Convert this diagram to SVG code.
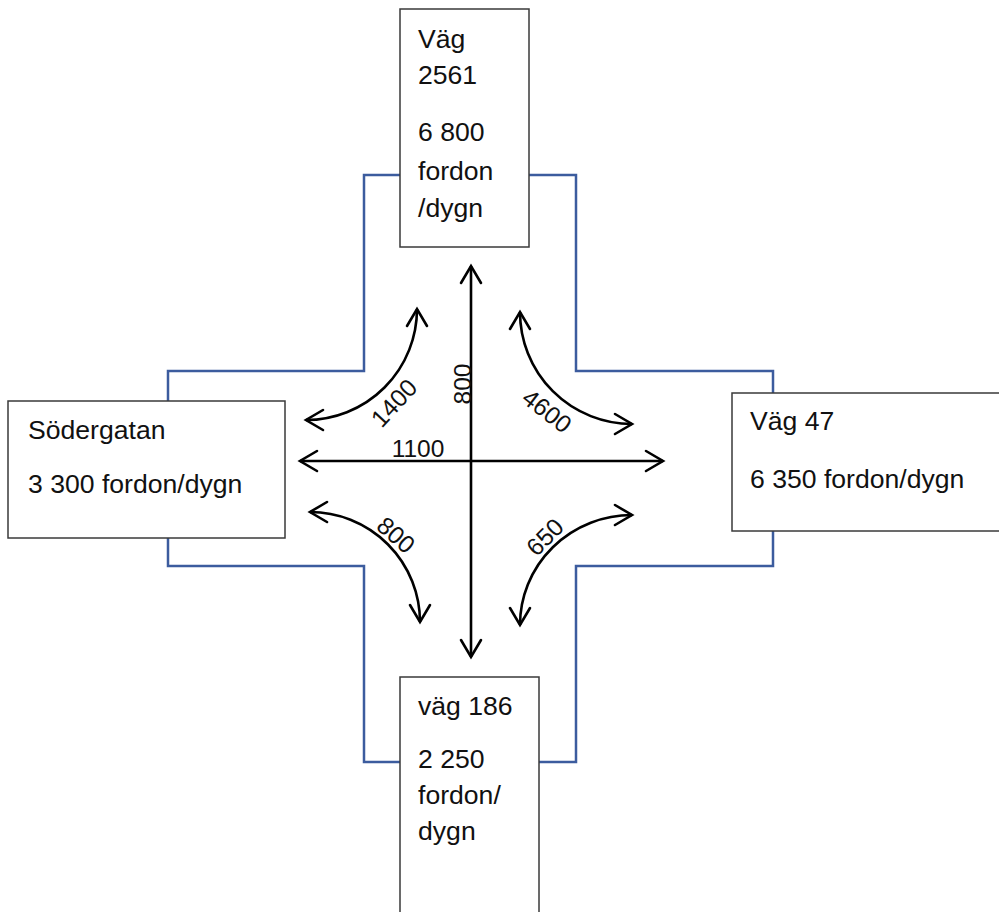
<svg xmlns="http://www.w3.org/2000/svg" width="999" height="912" viewBox="0 0 999 912">
<style>
.road{fill:none;stroke:#3c5c9e;stroke-width:2.5}
.box{fill:#fff;stroke:#3a3a3a;stroke-width:1.5}
.t{font-family:"Liberation Sans",Arial,sans-serif;font-size:26.6px;fill:#111}
.lbl{font-family:"Liberation Sans",Arial,sans-serif;font-size:24.5px;fill:#111;text-anchor:middle}
.arr{fill:none;stroke:#000;stroke-width:2.6;marker-start:url(#ah);marker-end:url(#ah)}
</style>
<defs>
<marker id="ah" markerUnits="userSpaceOnUse" markerWidth="22" markerHeight="26" viewBox="0 0 22 26" refX="19" refY="13" orient="auto-start-reverse">
<path d="M2,3 L19,13 L2,23" fill="none" stroke="#000" stroke-width="2.6" stroke-linecap="round" stroke-linejoin="miter"/>
</marker>
</defs>
<rect width="999" height="912" fill="#fff"/>
<path class="road" d="M364,175 L364,371 L168,371 L168,566 L364,566 L364,762 L576,762 L576,566 L773,566 L773,371 L576,371 L576,175 Z"/>
<g id="connectors">
<path class="arr" d="M300,461 L663,461"/>
<path class="arr" d="M471,266 L471,657"/>
<path class="arr" d="M417,309 A111,111 0 0 1 306,420"/>
<path class="arr" d="M520,312 A112,112 0 0 0 632,424"/>
<path class="arr" d="M310,512 A110,110 0 0 1 420,622"/>
<path class="arr" d="M632,515 A112,110 0 0 0 520,625"/>
<text class="lbl" x="418" y="457">1100</text>
<text class="lbl" transform="translate(462,384) rotate(-90)" y="8.5">800</text>
<text class="lbl" transform="translate(394,403) rotate(-47)" y="8.5">1400</text>
<text class="lbl" transform="translate(547,411) rotate(38)" y="8.5">4600</text>
<text class="lbl" transform="translate(396,535) rotate(41)" y="8.5">800</text>
<text class="lbl" transform="translate(545,537) rotate(-45)" y="8.5">650</text>
</g>
<g id="node-vag2561">
<rect class="box" x="400" y="9" width="129" height="238"/>
<text class="t" x="418" y="48">Väg</text>
<text class="t" x="418" y="84">2561</text>
<text class="t" x="418" y="141">6 800</text>
<text class="t" x="418" y="180">fordon</text>
<text class="t" x="418" y="217">/dygn</text>
</g>
<g id="node-sodergatan">
<rect class="box" x="8" y="401" width="277" height="137"/>
<text class="t" x="28" y="439">Södergatan</text>
<text class="t" x="28" y="493">3 300 fordon/dygn</text>
</g>
<g id="node-vag47">
<rect class="box" x="732" y="393" width="280" height="138"/>
<text class="t" x="750" y="430">Väg 47</text>
<text class="t" x="750" y="488">6 350 fordon/dygn</text>
</g>
<g id="node-vag186">
<rect class="box" x="400" y="677" width="139" height="245"/>
<text class="t" x="418" y="715">väg 186</text>
<text class="t" x="418" y="768">2 250</text>
<text class="t" x="418" y="804">fordon/</text>
<text class="t" x="418" y="840">dygn</text>
</g>
</svg>
